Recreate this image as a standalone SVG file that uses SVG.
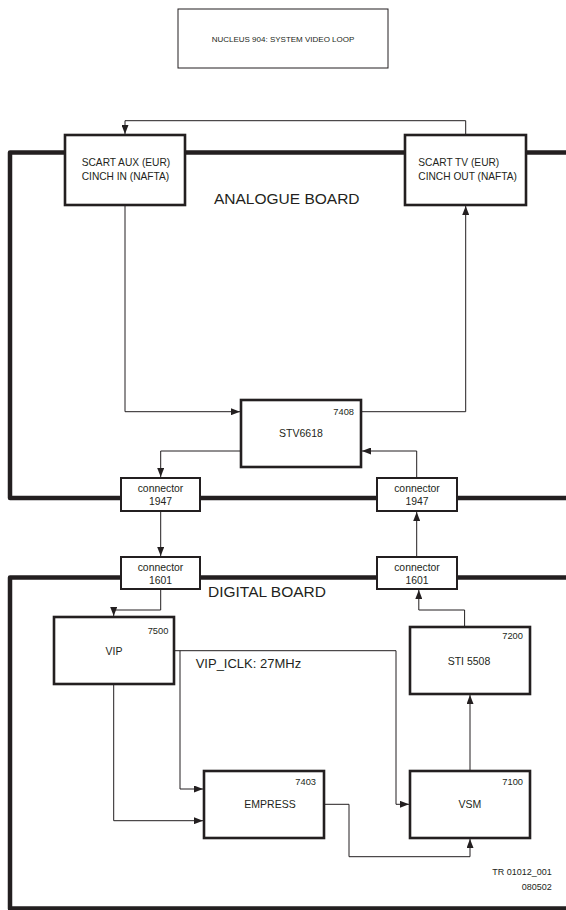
<svg xmlns="http://www.w3.org/2000/svg" width="566" height="910" viewBox="0 0 566 910">
  <style>
    text { font-family: "Liberation Sans", Arial, sans-serif; fill: #231f20; }
    .box { fill: #fff; stroke: #231f20; stroke-width: 2.6; }
    .cbox { fill: #fff; stroke: #231f20; stroke-width: 2; }
    .title { fill: #fff; stroke: #231f20; stroke-width: 1; }
    .board { fill: none; stroke: #231f20; stroke-width: 4.5; stroke-linejoin: round; }
    .wire { fill: none; stroke: #231f20; stroke-width: 1; }
    .lbl { font-size: 10.2px; }
    .name { font-size: 10.5px; text-anchor: middle; }
    .num { font-size: 9.3px; text-anchor: middle; }
    .ctext { font-size: 10.4px; text-anchor: middle; }
    .board-lbl { font-size: 15.5px; }
  </style>
  <defs>
    <marker id="arrow" markerUnits="userSpaceOnUse" markerWidth="9" markerHeight="7" refX="9" refY="3.5" orient="auto">
      <path d="M0,0 L9,3.5 L0,7 z" fill="#231f20"/>
    </marker>
  </defs>

  <!-- title -->
  <g id="title">
    <rect class="title" x="178" y="9" width="210" height="59"/>
    <text x="283" y="42" font-size="8" text-anchor="middle">NUCLEUS 904: SYSTEM VIDEO LOOP</text>
  </g>

  <!-- board outlines -->
  <g id="boards">
    <path class="board" d="M566,152.5 H10 V498 H566"/>
    <path class="board" d="M566,577.5 H10 V908.5 H566"/>
    <text class="board-lbl" x="214" y="204">ANALOGUE BOARD</text>
    <text class="board-lbl" x="208" y="596.5">DIGITAL BOARD</text>
  </g>

  <!-- signal connections -->
  <g id="connectors">
    <path class="wire" d="M465.7,135 V120.7 H125 V134" marker-end="url(#arrow)"/>
    <path class="wire" d="M125,205 V411.7 H240" marker-end="url(#arrow)"/>
    <path class="wire" d="M361,411.7 H465.7 V206" marker-end="url(#arrow)"/>
    <path class="wire" d="M241,451 H160.7 V477" marker-end="url(#arrow)"/>
    <path class="wire" d="M416.7,478 V451 H362" marker-end="url(#arrow)"/>
    <path class="wire" d="M160.7,511 V556" marker-end="url(#arrow)"/>
    <path class="wire" d="M416.7,557 V512" marker-end="url(#arrow)"/>
    <path class="wire" d="M160.7,589 V610 H113.7 V616" marker-end="url(#arrow)"/>
    <path class="wire" d="M464.6,627 V610 H418.8 V590" marker-end="url(#arrow)"/>
    <path class="wire" d="M174,650.7 H396 V804.3 H409" marker-end="url(#arrow)"/>
    <path class="wire" d="M180,650.7 V789 H203" marker-end="url(#arrow)"/>
    <path class="wire" d="M113.7,684 V820.7 H203" marker-end="url(#arrow)"/>
    <path class="wire" d="M324,804.3 H349 V856.7 H470 V839" marker-end="url(#arrow)"/>
    <path class="wire" d="M470,771 V695" marker-end="url(#arrow)"/>
  </g>

  <g id="scart-aux">
    <rect class="box" x="65" y="135" width="120" height="70"/>
    <text class="lbl" x="81.7" y="166">SCART AUX (EUR)</text>
    <text class="lbl" x="81.7" y="179.5">CINCH IN (NAFTA)</text>
  </g>
  <g id="scart-tv">
    <rect class="box" x="405" y="135" width="121" height="70"/>
    <text class="lbl" x="418.3" y="166">SCART TV (EUR)</text>
    <text class="lbl" x="418.3" y="179.5">CINCH OUT (NAFTA)</text>
  </g>
  <g id="stv6618">
    <rect class="box" x="241" y="400" width="120" height="67"/>
    <text class="num" x="343.7" y="414.5">7408</text>
    <text class="name" x="301" y="437">STV6618</text>
  </g>
  <g id="conn-1947-out">
    <rect class="cbox" x="121" y="478" width="79" height="33"/>
    <text class="ctext" x="160.5" y="492">connector</text>
    <text class="ctext" x="160.5" y="505">1947</text>
  </g>
  <g id="conn-1947-in">
    <rect class="cbox" x="377" y="478" width="80" height="33"/>
    <text class="ctext" x="417" y="492">connector</text>
    <text class="ctext" x="417" y="505">1947</text>
  </g>
  <g id="conn-1601-in">
    <rect class="cbox" x="121" y="557" width="79" height="32"/>
    <text class="ctext" x="160.5" y="570.5">connector</text>
    <text class="ctext" x="160.5" y="584">1601</text>
  </g>
  <g id="conn-1601-out">
    <rect class="cbox" x="377" y="557" width="80" height="32"/>
    <text class="ctext" x="417" y="570.5">connector</text>
    <text class="ctext" x="417" y="584">1601</text>
  </g>
  <g id="vip">
    <rect class="box" x="54" y="617" width="120" height="67"/>
    <text class="num" x="158" y="633.5">7500</text>
    <text class="name" x="114" y="654.5">VIP</text>
  </g>
  <text x="195.7" y="668.3" font-size="13">VIP_ICLK: 27MHz</text>
  <g id="sti5508">
    <rect class="box" x="410" y="627" width="120" height="67"/>
    <text class="num" x="512.6" y="639">7200</text>
    <text class="name" x="469" y="664.5">STI 5508</text>
  </g>
  <g id="empress">
    <rect class="box" x="204" y="771" width="120" height="67"/>
    <text class="num" x="305.7" y="785">7403</text>
    <text class="name" x="270" y="808">EMPRESS</text>
  </g>
  <g id="vsm">
    <rect class="box" x="410" y="771" width="120" height="67"/>
    <text class="num" x="512.7" y="785">7100</text>
    <text class="name" x="470" y="808">VSM</text>
  </g>

  <g id="drawing-ref">
    <text x="551.7" y="875" font-size="9" text-anchor="end">TR 01012_001</text>
    <text x="551.7" y="890" font-size="9" text-anchor="end">080502</text>
  </g>
</svg>
